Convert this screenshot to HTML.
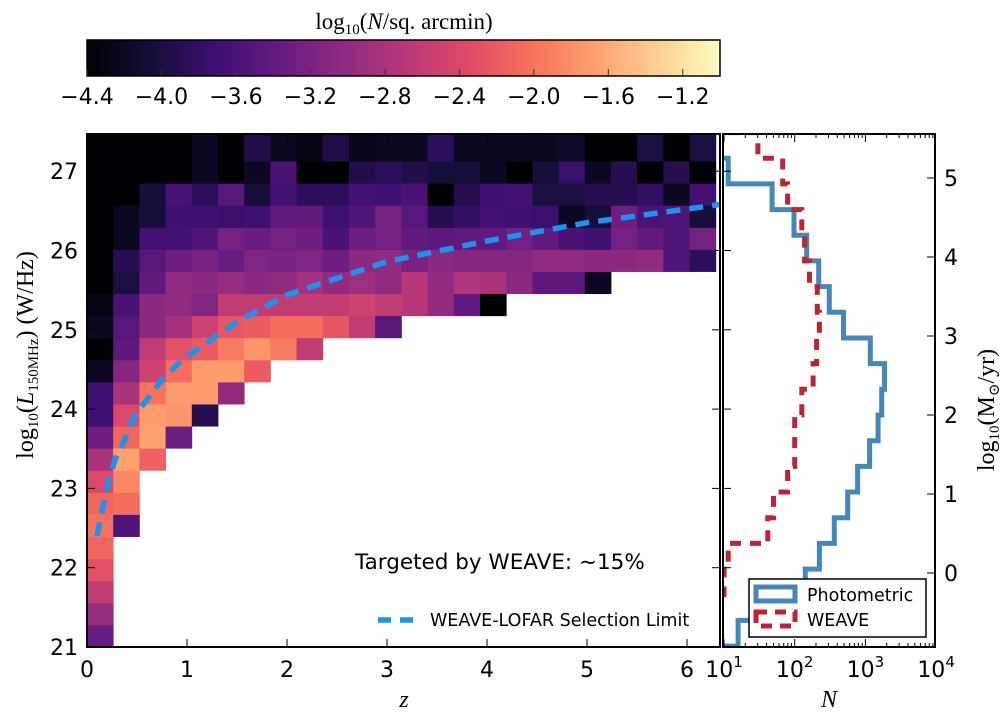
<!DOCTYPE html>
<html><head><meta charset="utf-8"><style>
html,body{margin:0;padding:0;background:#fff;}
svg{display:block;}
text{font-family:"DejaVu Sans","Liberation Sans",sans-serif;}
.serif{font-family:"Liberation Serif","DejaVu Serif",serif;}
</style></head><body>
<svg id="chart" width="1000" height="715" viewBox="0 0 1000 715" xmlns="http://www.w3.org/2000/svg">
<defs>
<clipPath id="mainClip"><rect x="87" y="134" width="633" height="513"/></clipPath>
<clipPath id="sideClip"><rect x="723" y="134" width="212" height="513"/></clipPath>
<linearGradient id="magmaGrad" x1="0" x2="1" y1="0" y2="0"></linearGradient>
</defs>
<g id="heat" clip-path="url(#mainClip)"></g>
<g id="mainOverlay"></g>
<g id="side"></g>
<g id="cbar"></g>
</svg>
<script>
// ---- heatmap data: log10(N/sq.arcmin), rows bottom-up (L bins), columns = z bins ----
const zBinWidth = 0.262;
const lBinStart = 21;
const lBinWidth = 0.2785;
const heatRows = [
[-3.35],
[-2.95],
[-2.6],
[-2.3],
[-2.1],
[-2.0,-3.55],
[-2.1,-2.05],
[-2.4,-1.85],
[-2.8,-1.65,-2.15],
[-3.3,-2.1,-1.65,-3.3],
[-3.7,-2.4,-1.7,-1.75,-3.9],
[-3.7,-2.8,-2.0,-1.7,-1.7,-3.0],
[-4.2,-3.1,-2.5,-2.05,-1.7,-1.7,-2.2],
[-4.4,-3.45,-2.6,-2.3,-2.2,-1.95,-1.75,-1.95,-2.6],
[-4.2,-3.5,-3.05,-2.85,-2.5,-2.25,-2.2,-2.05,-2.05,-2.25,-2.6,-3.5],
[-4.3,-3.6,-3.05,-3.0,-3.15,-2.6,-2.6,-2.6,-2.6,-2.6,-2.5,-2.6,-2.7,-3.0,-3.4,-4.4],
[-4.4,-4.0,-3.4,-3.0,-3.05,-2.95,-3.05,-3.0,-2.85,-3.0,-2.9,-3.0,-2.7,-3.0,-2.75,-2.8,-3.05,-3.45,-3.45,-4.2],
[-4.4,-3.9,-3.5,-3.3,-3.2,-3.35,-3.15,-3.2,-3.15,-3.3,-3.05,-3.0,-3.2,-3.05,-3.1,-3.1,-3.1,-3.0,-3.0,-3.05,-3.05,-3.0,-3.55,-3.85],
[-4.4,-4.2,-3.65,-3.65,-3.55,-3.25,-3.35,-3.25,-3.3,-3.6,-3.3,-3.25,-3.4,-3.45,-3.4,-3.4,-3.25,-3.4,-3.6,-3.7,-3.25,-3.4,-3.55,-3.25],
[-4.4,-4.2,-4.05,-3.7,-3.7,-3.75,-3.7,-3.4,-3.4,-3.7,-3.55,-3.25,-3.5,-3.9,-3.8,-3.65,-3.7,-3.75,-4.2,-4.05,-3.3,-3.6,-3.55,-4.05],
[-4.4,-4.4,-4.05,-3.6,-3.85,-3.5,-4.05,-3.65,-3.85,-3.85,-3.65,-3.7,-3.6,-4.4,-3.9,-3.7,-3.65,-4.0,-4.0,-3.9,-3.9,-3.8,-4.2,-3.65],
[-4.4,-4.4,-4.4,-4.4,-4.2,-4.4,-4.2,-3.6,-4.4,-4.4,-3.95,-3.85,-3.95,-4.05,-4.05,-4.2,-4.4,-4.05,-3.75,-4.2,-3.9,-4.4,-3.9,-4.4],
[-4.4,-4.4,-4.4,-4.4,-4.2,-4.4,-3.95,-4.2,-4.3,-3.95,-4.25,-4.2,-4.2,-3.85,-4.2,-4.2,-4.2,-4.2,-4.15,-4.4,-4.4,-4.0,-4.4,-4.0],
[-4.4,-4.4,-4.4,-4.4,-4.2,-4.4,-3.95,-4.2,-4.3,-3.95,-4.25,-4.2,-4.2,-3.85,-4.2,-4.2,-4.2,-4.2,-4.15,-4.4,-4.4,-4.0,-4.4,-4.0]
];
// selection limit curve
const limitZ = [0.1,0.11,0.16,0.21,0.28,0.38,0.48,0.63,0.75,0.95,1.5,2,3,4,5,6.33];
const limitL = [22.4,22.46,22.78,23.06,23.36,23.62,23.92,24.17,24.37,24.62,25.1,25.44,25.86,26.12,26.35,26.58];
// SFR histograms (log10 N per bin), bins from top edge downwards
const sfrTop = 5.575;
const sfrBinWidth = 0.325;
const photoLogN = [null,1.06,1.68,1.99,2.17,2.34,2.49,2.69,3.07,3.27,3.23,3.18,3.06,2.89,2.75,2.56,2.35,2.15,1.9,1.2];
const weaveLogN = [1.48,1.83,1.90,2.10,2.14,2.21,2.32,2.35,2.31,2.26,2.10,2.0,2.0,1.90,1.70,1.62,1.06,1.0,null,null];
// ticks
const zTicks = [0,1,2,3,4,5,6];
const lTicks = [21,22,23,24,25,26,27];
const sfrTicks = [0,1,2,3,4,5];
const nTickExp = [1,2,3,4];
const cbarTicks = ["−4.4","−4.0","−3.6","−3.2","−2.8","−2.4","−2.0","−1.6","−1.2"];
const cbarTickVals = [-4.4,-4.0,-3.6,-3.2,-2.8,-2.4,-2.0,-1.6,-1.2];

const NS="http://www.w3.org/2000/svg";
function mk(tag, attrs, parent){const e=document.createElementNS(NS,tag);for(const k in attrs)e.setAttribute(k,attrs[k]);parent.appendChild(e);return e;}
const X=z=>87+z*100;
const Y=L=>647-(L-21)*79.3;
const X2=lg=>724+(lg-1)*70.7;
const Y2=s=>573-s*79;
const vmin=-4.4, vmax=-1.0;
const CX=v=>87+(v-vmin)/(vmax-vmin)*633;
const magma=[[0,0,4],[20,14,54],[59,15,112],[100,26,128],[140,41,129],[183,55,121],[222,73,104],[247,112,92],[254,159,109],[254,207,146],[252,253,191]];
function cmap(v){let t=(v-vmin)/(vmax-vmin);t=Math.max(0,Math.min(1,t));const p=t*10;const i=Math.min(9,Math.floor(p));const f=p-i;const a=magma[i],b=magma[i+1];
return `rgb(${Math.round(a[0]+(b[0]-a[0])*f)},${Math.round(a[1]+(b[1]-a[1])*f)},${Math.round(a[2]+(b[2]-a[2])*f)})`;}

const heat=document.getElementById('heat');
heatRows.forEach((row,r)=>{row.forEach((v,c)=>{if(v===null)return;
 const x0=X(c*zBinWidth),x1=X((c+1)*zBinWidth),y0=Y(lBinStart+(r+1)*lBinWidth),y1=Y(lBinStart+r*lBinWidth);
 const el=mk('rect',{x:x0.toFixed(2),y:y0.toFixed(2),width:(x1-x0+0.4).toFixed(2),height:(y1-y0+0.4).toFixed(2),fill:cmap(v)},heat);
 
 
});});

const mo=document.getElementById('mainOverlay');
let d='';limitZ.forEach((z,i)=>{d+=(i?'L':'M')+X(z).toFixed(1)+','+Y(limitL[i]).toFixed(1);});
const lim=mk('path',{d:d,fill:'none',stroke:'#1a94f0','stroke-width':5.5,'stroke-dasharray':'14,9','stroke-linejoin':'round','clip-path':'url(#mainClip)'},mo);


const fr=mk('rect',{x:87,y:134,width:633,height:513,fill:'none',stroke:'#000','stroke-width':2},mo);


zTicks.forEach(z=>{const x=X(z);
 mk('line',{x1:x,x2:x,y1:647,y2:639,stroke:'#000','stroke-width':1},mo);
 mk('line',{x1:x,x2:x,y1:134,y2:142,stroke:'#000','stroke-width':1},mo);
 const t=mk('text',{x:x,y:677,'font-size':22,'text-anchor':'middle'},mo);t.textContent=z;
 
 
});
lTicks.forEach(L=>{const y=Y(L);
 mk('line',{x1:87,x2:95,y1:y,y2:y,stroke:'#000','stroke-width':1},mo);
 mk('line',{x1:720,x2:712,y1:y,y2:y,stroke:'#000','stroke-width':1},mo);
 const t=mk('text',{x:78,y:y+8,'font-size':22,'text-anchor':'end'},mo);t.textContent=L;
 
 
});

const side=document.getElementById('side');
const sg=mk('g',{'clip-path':'url(#sideClip)'},side);
function stepPath(vals){let p='';let started=false;
 vals.forEach((v,i)=>{const yt=Y2(sfrTop-i*sfrBinWidth),yb=Y2(sfrTop-(i+1)*sfrBinWidth);
  if(v===null){if(started){p+='L'+X2(0.5).toFixed(1)+','+yt.toFixed(1);started=false;}return;}
  const x=X2(v);
  if(!started){p+='M'+X2(0.5).toFixed(1)+','+yt.toFixed(1)+'L'+x.toFixed(1)+','+yt.toFixed(1);started=true;}
  else p+='L'+x.toFixed(1)+','+yt.toFixed(1);
  p+='L'+x.toFixed(1)+','+yb.toFixed(1);
 });
 if(started)p+='L'+X2(0.5).toFixed(1)+','+Y2(sfrTop-vals.length*sfrBinWidth).toFixed(1);
 return p;}
const ph=mk('path',{d:stepPath(photoLogN),fill:'none',stroke:'#4587b8','stroke-width':5},sg);


const wv=mk('path',{d:stepPath(weaveLogN),fill:'none',stroke:'#be2330','stroke-width':5,'stroke-dasharray':'11,9'},sg);


const sf=mk('rect',{x:723,y:134,width:212,height:513,fill:'none',stroke:'#000','stroke-width':2},side);


lTicks.forEach(L=>{const y=Y(L);mk('line',{x1:723,x2:731,y1:y,y2:y,stroke:'#000','stroke-width':1},side);});
sfrTicks.forEach(s=>{const y=Y2(s);
 mk('line',{x1:935,x2:927,y1:y,y2:y,stroke:'#000','stroke-width':1},side);
 const t=mk('text',{x:944,y:y+8,'font-size':22},side);t.textContent=s;
 
 
});
for(let e=1;e<4;e++){for(let m=1;m<10;m++){const x=X2(e+Math.log10(m));const len=m===1?8:4;
 mk('line',{x1:x,x2:x,y1:647,y2:647-len,stroke:'#000','stroke-width':1},side);
 mk('line',{x1:x,x2:x,y1:134,y2:134+len,stroke:'#000','stroke-width':1},side);}}
nTickExp.forEach(e=>{const x=X2(e);
 const t=mk('text',{x:x,y:677,'font-size':22,'text-anchor':'middle'},side);
 
 
 const a=document.createElementNS(NS,'tspan');a.textContent='10';t.appendChild(a);
 const b=document.createElementNS(NS,'tspan');b.setAttribute('dy','-10');b.setAttribute('font-size','15');b.textContent=e;t.appendChild(b);
});

const cb=document.getElementById('cbar');
const grad=document.getElementById('magmaGrad');
magma.forEach((c,i)=>{mk('stop',{offset:(i/10),'stop-color':`rgb(${c[0]},${c[1]},${c[2]})`},grad);});
const cr=mk('rect',{x:87,y:40,width:633,height:36,fill:'url(#magmaGrad)',stroke:'#000','stroke-width':1.5},cb);


cbarTickVals.forEach((v,i)=>{const x=CX(v);
 mk('line',{x1:x,x2:x,y1:76,y2:69,stroke:'#333','stroke-width':1},cb);
 const t=mk('text',{x:x,y:104,'font-size':22,'text-anchor':'middle'},cb);t.textContent=cbarTicks[i];
 
 
});
</script>
<script>
const svg=document.getElementById('chart');
svg.insertAdjacentHTML('beforeend',`
<text class="serif" x="404" y="29" font-size="23" text-anchor="middle">log<tspan font-size="15" dy="5">10</tspan><tspan dy="-5">(</tspan><tspan font-style="italic">N</tspan>/sq. arcmin)</text>
<text class="serif" x="404" y="707" font-size="24" font-style="italic" text-anchor="middle">z</text>
<text class="serif" x="829" y="707" font-size="24" font-style="italic" text-anchor="middle">N</text>
<text class="serif" transform="translate(33,355) rotate(-90)" font-size="24" text-anchor="middle">log<tspan font-size="15" dy="5">10</tspan><tspan dy="-5">(</tspan><tspan font-style="italic">L</tspan><tspan font-size="15" dy="5">150MHz</tspan><tspan dy="-5">) (W/Hz)</tspan></text>
<text class="serif" transform="translate(994,410) rotate(-90)" font-size="24" text-anchor="middle">log<tspan font-size="15" dy="5">10</tspan><tspan dy="-5">(M</tspan><tspan font-size="15" dy="5">⊙</tspan><tspan dy="-5">/yr)</tspan></text>
<text x="355" y="569" font-size="21.5">Targeted by WEAVE: ~15%</text>
<line x1="378" y1="620" x2="420" y2="620" stroke="#1a94f0" stroke-width="5.5" stroke-dasharray="13,9"/>
<text x="430" y="626" font-size="17.5">WEAVE-LOFAR Selection Limit</text>
<g>
<rect x="749" y="579" width="177" height="58" fill="#fff" stroke="#000" stroke-width="1.5"/>
<rect x="756" y="587" width="39" height="14" fill="none" stroke="#4587b8" stroke-width="5"/>
<text x="807" y="601" font-size="17.5">Photometric</text>
<rect x="756" y="612" width="39" height="14" fill="none" stroke="#be2330" stroke-width="5" stroke-dasharray="11,8"/>
<text x="807" y="626" font-size="17.5">WEAVE</text>
</g>`);
</script>
</body></html>
